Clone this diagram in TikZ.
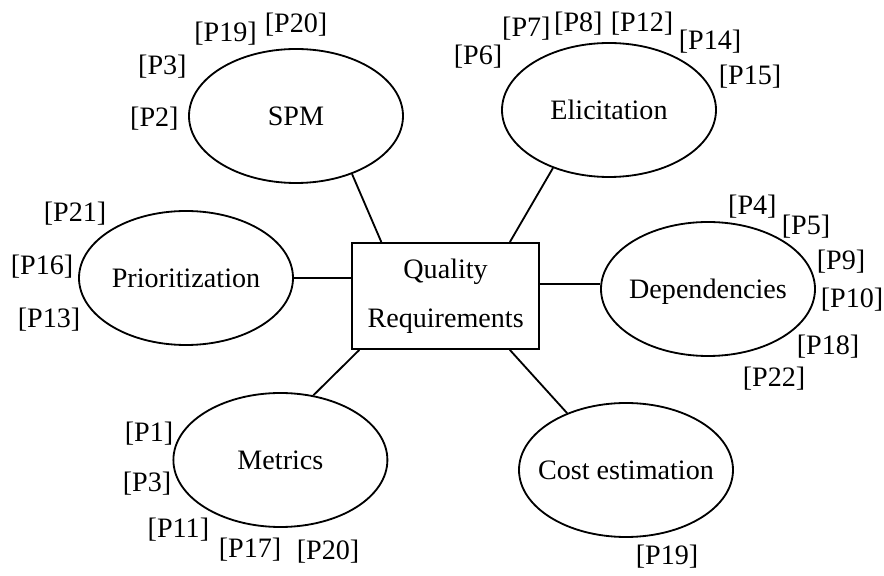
\documentclass[tikz,border=0pt]{standalone}
\usepackage{fontspec}
\setmainfont{Liberation Serif}
\usetikzlibrary{shapes.geometric}
\begin{document}
\begin{tikzpicture}[font=\fontsize{20}{35}\selectfont, line width=1.3pt,
    topic/.style={draw, ellipse, minimum width=5.35cm, minimum height=3.35cm,
      inner xsep=-1cm, inner ysep=0pt, text height=13pt, text depth=0pt},
    core/.style={draw, rectangle, minimum width=4.675cm, minimum height=2.65cm, align=center},
    paper/.style={anchor=base, inner sep=0pt}]
        \useasboundingbox (0,0) rectangle (22.1,14.4);

        \node[core] (qr) at (11.14,7.0) {Quality\\Requirements};

        \node[topic] (spm) at (7.4,11.5) {SPM};
        \node[topic] (eli) at (15.225,11.65) {Elicitation};
        \node[topic] (prio) at (4.65,7.45) {Prioritization};
        \node[topic] (dep) at (17.7,7.175) {Dependencies};
        \node[topic] (met) at (7.01,2.9) {Metrics};
        \node[topic] (cost) at (15.65,2.65) {Cost estimation};

        \node[paper] (spm2) at (3.86,11.225) {[P2]};
        \node[paper] (spm3) at (4.06,12.525) {[P3]};
        \node[paper] (spm19) at (5.64,13.35) {[P19]};
        \node[paper] (spm20) at (7.4,13.575) {[P20]};

        \node[paper] (eli6) at (11.95,12.775) {[P6]};
        \node[paper] (eli7) at (13.16,13.475) {[P7]};
        \node[paper] (eli8) at (14.46,13.6) {[P8]};
        \node[paper] (eli12) at (16.05,13.6) {[P12]};
        \node[paper] (eli14) at (17.75,13.15) {[P14]};
        \node[paper] (eli15) at (18.75,12.275) {[P15]};

        \node[paper] (prio21) at (1.875,8.85) {[P21]};
        \node[paper] (prio16) at (1.05,7.525) {[P16]};
        \node[paper] (prio13) at (1.225,6.2) {[P13]};

        \node[paper] (dep4) at (18.81,9.025) {[P4]};
        \node[paper] (dep5) at (20.15,8.525) {[P5]};
        \node[paper] (dep9) at (21.025,7.65) {[P9]};
        \node[paper] (dep10) at (21.3,6.7) {[P10]};
        \node[paper] (dep18) at (20.7,5.525) {[P18]};
        \node[paper] (dep22) at (19.35,4.725) {[P22]};

        \node[paper] (met1) at (3.725,3.35) {[P1]};
        \node[paper] (met3) at (3.675,2.1) {[P3]};
        \node[paper] (met11) at (4.46,0.95) {[P11]};
        \node[paper] (met17) at (6.25,0.45) {[P17]};
        \node[paper] (met20) at (8.2,0.4) {[P20]};

        \node[paper] (cost19) at (16.675,0.275) {[P19]};

        \draw (spm.-46) -- (qr.140);
        \draw (eli.-134) -- (qr.40);
        \draw (prio.east) -- (prio.east -| qr.west);
        \draw (qr.7) -- (qr.7 -| dep.west);
        \draw (met.63) -- (qr.-148);
        \draw (cost.136) -- (qr.-40);
      \end{tikzpicture}
\end{document}
